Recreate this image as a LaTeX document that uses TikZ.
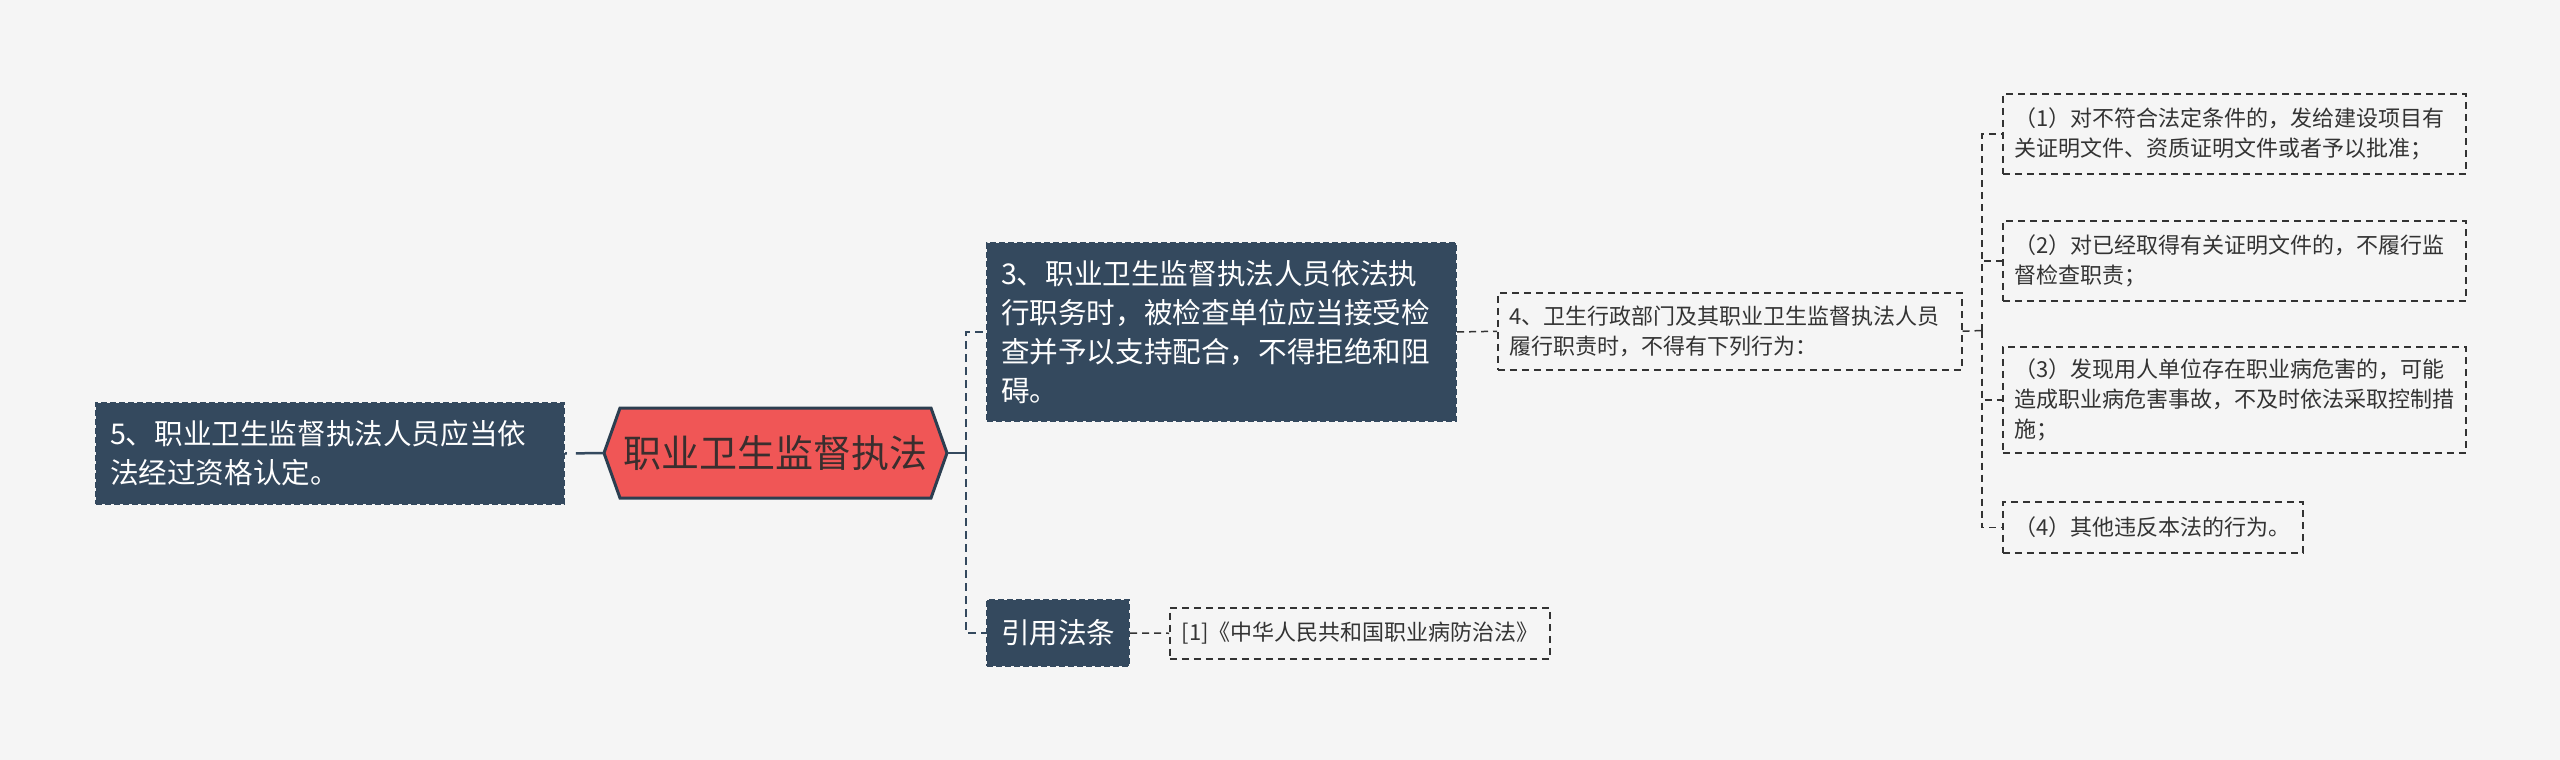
\documentclass[tikz,border=0pt]{standalone}
\usepackage{fontspec}
\setmainfont{Noto Sans CJK SC}
\definecolor{bg}{HTML}{F5F5F5}
\definecolor{dark}{HTML}{34495E}
\definecolor{hexred}{HTML}{F05656}
\definecolor{hexline}{HTML}{2C3E50}
\definecolor{hextext}{HTML}{3A2E2E}
\definecolor{txt}{HTML}{333333}
\begin{document}
\begin{tikzpicture}[x=1pt,y=-1pt,
  darkbox/.style={draw=dark, fill=dark, line width=2pt, dash pattern=on 6pt off 3pt, text=white, font=\fontsize{28.6}{39}\selectfont, align=left, inner xsep=14pt, inner ysep=0pt, anchor=north west},
  lightbox/.style={draw=txt, line width=1.5pt, dash pattern=on 7pt off 5pt, text=txt, font=\fontsize{22}{30}\selectfont, align=left, inner xsep=12pt, inner ysep=0pt, anchor=north west},
  mainconn/.style={draw=dark, line width=2.5pt, dash pattern=on 8pt off 5pt},
  solidconn/.style={draw=dark, line width=2.5pt},
  subconn/.style={draw=txt, line width=1.5pt, dash pattern=on 7pt off 5pt}]
\fill[bg] (0,0) rectangle (2560,760);
\useasboundingbox (0,0) rectangle (2560,760);

% centre hexagon
\filldraw[fill=hexred, draw=hexline, line width=3pt, line join=miter]
  (604,453) -- (620,408) -- (931,408) -- (947,453) -- (931,498) -- (620,498) -- cycle;
\node[minimum width=343pt, minimum height=90pt, inner sep=0pt, text=hextext, font=\fontsize{38}{44}\selectfont] (hex) at (775.5,453) {职业卫生监督执法};

% left
\node[darkbox, minimum width=468pt, minimum height=101pt, text width=440pt] (n5) at (95,402)
  {5、职业卫生监督执法人员应当依\\法经过资格认定。};

% right, first level
\node[darkbox, minimum width=469pt, minimum height=178pt, text width=441pt] (n3) at (986,242)
  {3、职业卫生监督执法人员依法执\\行职务时，被检查单位应当接受检\\查并予以支持配合，不得拒绝和阻\\碍。};
\node[darkbox, minimum width=142pt, minimum height=66pt, text width=114pt, align=center] (ref) at (986,599)
  {引用法条};

% second level
\node[lightbox, minimum width=464pt, minimum height=77pt, text width=440pt] (n4) at (1497,292)
  {4、卫生行政部门及其职业卫生监督执法人员\\履行职责时，不得有下列行为：};
\node[lightbox, minimum width=380pt, minimum height=51pt, text width=356pt] (cite) at (1169,607)
  {[1]《中华人民共和国职业病防治法》};

% third level
\node[lightbox, minimum width=463pt, minimum height=80pt, text width=439pt] (i1) at (2002,93)
  {（1）对不符合法定条件的，发给建设项目有\\关证明文件、资质证明文件或者予以批准；};
\node[lightbox, minimum width=463pt, minimum height=80pt, text width=439pt] (i2) at (2002,220)
  {（2）对已经取得有关证明文件的，不履行监\\督检查职责；};
\node[lightbox, minimum width=463pt, minimum height=106pt, text width=439pt] (i3) at (2002,346)
  {（3）发现用人单位存在职业病危害的，可能\\造成职业病危害事故，不及时依法采取控制措\\施；};
\node[lightbox, minimum width=300pt, minimum height=51pt, text width=276pt] (i4) at (2002,501)
  {（4）其他违反本法的行为。};

% connectors
\draw[mainconn, dash pattern=on 28pt off 9pt] (hex.west) -- (n5.east);
\coordinate (j1) at (966,453);
\draw[solidconn] (hex.east) -- (j1);
\draw[mainconn] (j1) |- (n3.west);
\draw[mainconn] (j1) |- (ref.west);
\draw[subconn] (n3.east) -- (n4.west);
\draw[subconn] (ref.east) -- (cite.west);
\coordinate (j2) at (1982,330.5);
\draw[subconn] (n4.east) -- (j2);
\draw[subconn] (j2) |- (i1.west);
\draw[subconn] (j2) |- (i2.west);
\draw[subconn] (j2) |- (i3.west);
\draw[subconn] (j2) |- (i4.west);
\end{tikzpicture}
\end{document}
